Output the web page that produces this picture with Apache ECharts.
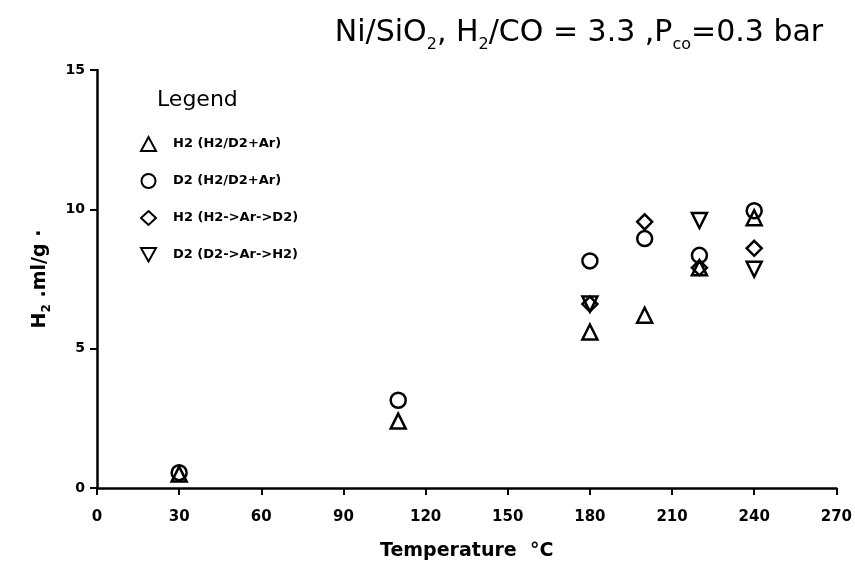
<!DOCTYPE html>
<html><head><meta charset="utf-8">
<script src="https://cdn.jsdelivr.net/npm/echarts@6/dist/echarts.min.js"></script>
<style>html,body{margin:0;padding:0;background:#fff}#c{width:855px;height:566px}</style>
</head><body><div id="c"></div>
<script>
const xTicks = [0,30,60,90,120,150,180,210,240,270];
const yTicks = [0,5,10,15];
const seriesNames = ['H2 (H2/D2+Ar)','D2 (H2/D2+Ar)','H2 (H2->Ar->D2)','D2 (D2->Ar->H2)'];
const h2MixTemp = [30,110,180,200,220,240];
const h2MixVal  = [0.5,2.4,5.6,6.2,7.9,9.7];
const d2MixTemp = [30,110,180,200,220,240];
const d2MixVal  = [0.55,3.15,8.15,8.95,8.35,9.95];
const h2SeqTemp = [180,200,220,240];
const h2SeqVal  = [6.6,9.55,7.9,8.6];
const d2SeqTemp = [180,220,240];
const d2SeqVal  = [6.6,9.6,7.85];

const pair = (t,v)=>t.map((x,i)=>[x,v[i]]);
const symbols = ['triangle','circle','diamond','path://M0,0 L10,0 L5,9 Z'];
const datas = [pair(h2MixTemp,h2MixVal),pair(d2MixTemp,d2MixVal),pair(h2SeqTemp,h2SeqVal),pair(d2SeqTemp,d2SeqVal)];
const sizes = [15,15,15,15];

const chart = echarts.init(document.getElementById('c'));
chart.setOption({
  animation:false,
  backgroundColor:'#fff',
  title:[{
    text:'{n|Ni/SiO}{s|2}{n|, H}{s|2}{n|/CO = 3.3 ,P}{s|co}{n|=0.3 bar}',
    left:574, top:8, textAlign:'center',
    textStyle:{fontWeight:'normal',rich:{
      n:{fontFamily:'DejaVu Sans',fontSize:30,color:'#000',fontWeight:'normal'},
      s:{fontFamily:'DejaVu Sans',fontSize:16,color:'#000',fontWeight:'normal',padding:[24,0,0,0]}
    }}
  },{
    text:'Legend', left:152, top:84,
    textStyle:{fontFamily:'DejaVu Sans',fontSize:22,color:'#000',fontWeight:'normal'}
  }],
  legend:{
    orient:'vertical', left:135, top:131, itemGap:21,
    itemWidth:15, itemHeight:14,
    data: seriesNames.map((n,i)=>({name:n, icon:symbols[i]})),
    textStyle:{fontFamily:'DejaVu Sans',fontSize:13,fontWeight:'bold',color:'#000',padding:[0,0,0,12]}
  },
  grid:{left:97, right:12, top:70, bottom:77, containLabel:false},
  xAxis:{
    type:'value', min:0, max:270, interval:30,
    name:'Temperature  °C', nameLocation:'middle', nameGap:54,
    nameTextStyle:{fontFamily:'DejaVu Sans',fontSize:19,fontWeight:'bold',color:'#000'},
    axisLine:{lineStyle:{color:'#000',width:2.5}},
    axisTick:{show:true,length:7,lineStyle:{color:'#000',width:2}},
    axisLabel:{fontFamily:'DejaVu Sans',fontSize:15,fontWeight:'bold',color:'#000',margin:22,
      formatter:v=>xTicks.includes(v)?String(v):''},
    splitLine:{show:false}
  },
  yAxis:{
    type:'value', min:0, max:15, interval:5,
    name:'{n|H}{s|2}{n| .ml/g ·}', nameLocation:'middle', nameGap:44, nameRotate:90,
    nameTextStyle:{rich:{
      n:{fontFamily:'DejaVu Sans',fontSize:19,fontWeight:'bold',color:'#000'},
      s:{fontFamily:'DejaVu Sans',fontSize:12,fontWeight:'bold',color:'#000',padding:[14,0,0,0]}
    }},
    axisLine:{show:true,lineStyle:{color:'#000',width:2.5}},
    axisTick:{show:true,length:7,lineStyle:{color:'#000',width:2}},
    axisLabel:{fontFamily:'DejaVu Sans',fontSize:14,fontWeight:'bold',color:'#000',margin:12,
      formatter:v=>yTicks.includes(v)?String(v):''},
    splitLine:{show:false}
  },
  series: seriesNames.map((n,i)=>({
    name:n, type:'scatter', data:datas[i], symbol:symbols[i], symbolSize:sizes[i],
    itemStyle:{color:'rgba(255,255,255,0)',borderColor:'#000',borderWidth:2.5,opacity:1}
  }))
});
</script></body></html>
